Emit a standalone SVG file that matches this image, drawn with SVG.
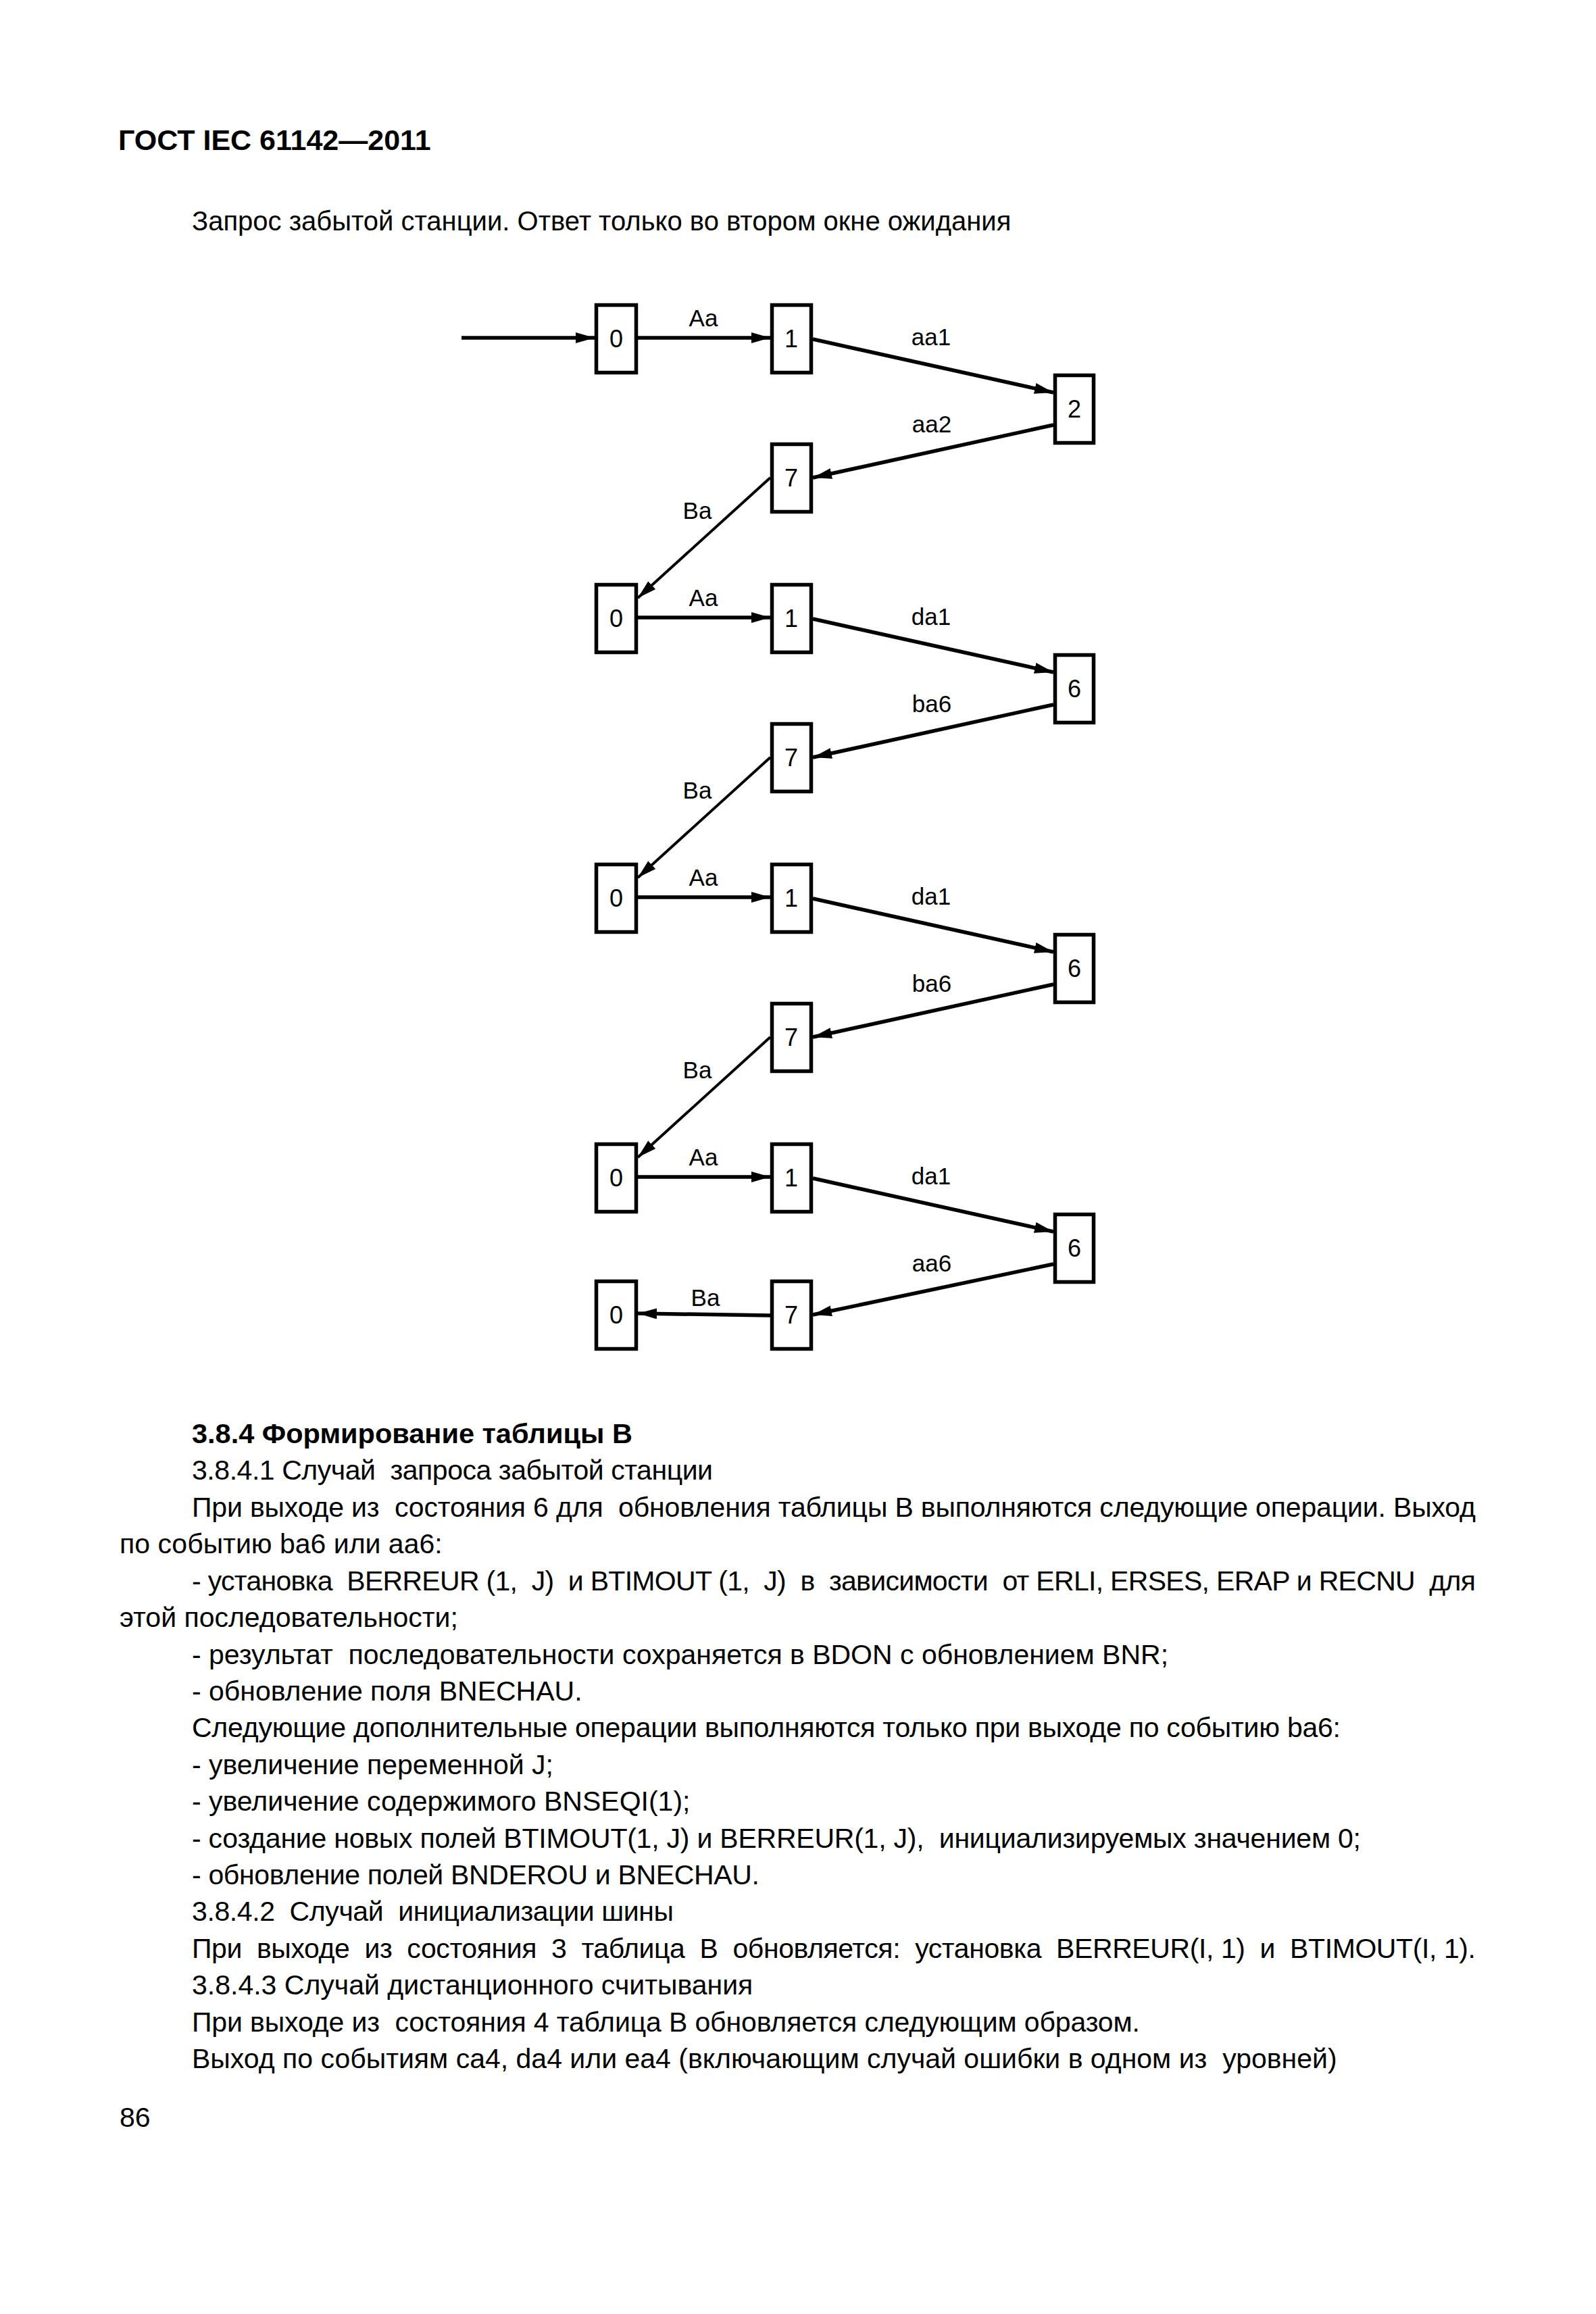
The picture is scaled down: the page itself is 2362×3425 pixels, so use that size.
<svg xmlns="http://www.w3.org/2000/svg" width="2362" height="3425" viewBox="0 0 2362 3425">
<style>
.bg{fill:#fff}
.box{fill:#fff;stroke:#000;stroke-width:5.5}
.num{font-family:"Liberation Sans",Arial,sans-serif;font-size:36px;text-anchor:middle;fill:#000}
.lbl{font-family:"Liberation Sans",Arial,sans-serif;font-size:35px;text-anchor:middle;fill:#000}
.thick{fill:none;stroke:#000;stroke-width:5.5;marker-end:url(#ah)}
.thin{fill:none;stroke:#000;stroke-width:4;marker-end:url(#ah)}
.body{font-family:"Liberation Sans",Arial,sans-serif;font-size:41px;fill:#000}
.sub{font-family:"Liberation Sans",Arial,sans-serif;font-size:40px;fill:#000}
.bold{font-family:"Liberation Sans",Arial,sans-serif;font-size:41.5px;font-weight:bold;fill:#000}
.hdr{font-family:"Liberation Sans",Arial,sans-serif;font-size:43px;font-weight:bold;fill:#000}
</style>
<defs>
<marker id="ah" markerUnits="userSpaceOnUse" markerWidth="30" markerHeight="18" refX="28" refY="8" orient="auto">
<path d="M0,0 L28,8 L0,16 z" fill="#000"/>
</marker>
</defs>
<rect class="bg" x="0" y="0" width="2362" height="3425"/>

<text class="hdr" x="175" y="222">ГОСТ IEC 61142—2011</text>
<text class="sub" x="284" y="341">Запрос забытой станции. Ответ только во втором окне ожидания</text>

<g id="connectors">
<line class="thick" x1="683" y1="500" x2="880" y2="500"/>
<!-- row 1 -->
<line class="thick" x1="944" y1="500" x2="1140" y2="500"/>
<line class="thick" x1="1203" y1="502" x2="1559" y2="581"/>
<line class="thick" x1="1559" y1="629" x2="1203" y2="707"/>
<line class="thin" x1="1140" y1="707" x2="944" y2="885"/>
<!-- row 2 -->
<line class="thick" x1="944" y1="914" x2="1140" y2="914"/>
<line class="thick" x1="1203" y1="916" x2="1559" y2="995"/>
<line class="thick" x1="1559" y1="1043" x2="1203" y2="1121"/>
<line class="thin" x1="1140" y1="1121" x2="944" y2="1299"/>
<!-- row 3 -->
<line class="thick" x1="944" y1="1328" x2="1140" y2="1328"/>
<line class="thick" x1="1203" y1="1330" x2="1559" y2="1409"/>
<line class="thick" x1="1559" y1="1457" x2="1203" y2="1535"/>
<line class="thin" x1="1140" y1="1535" x2="944" y2="1713"/>
<!-- row 4 -->
<line class="thick" x1="944" y1="1742" x2="1140" y2="1742"/>
<line class="thick" x1="1203" y1="1744" x2="1559" y2="1823"/>
<line class="thick" x1="1559" y1="1871" x2="1203" y2="1946"/>
<line class="thick" x1="1140" y1="1947" x2="944" y2="1944"/>
</g>

<g id="labels">
<text class="lbl" x="1041" y="483">Aa</text>
<text class="lbl" x="1378" y="511">aa1</text>
<text class="lbl" x="1379" y="640">aa2</text>
<text class="lbl" x="1032" y="768">Ba</text>
<text class="lbl" x="1041" y="897">Aa</text>
<text class="lbl" x="1378" y="925">da1</text>
<text class="lbl" x="1379" y="1054">ba6</text>
<text class="lbl" x="1032" y="1182">Ba</text>
<text class="lbl" x="1041" y="1311">Aa</text>
<text class="lbl" x="1378" y="1339">da1</text>
<text class="lbl" x="1379" y="1468">ba6</text>
<text class="lbl" x="1032" y="1596">Ba</text>
<text class="lbl" x="1041" y="1725">Aa</text>
<text class="lbl" x="1378" y="1753">da1</text>
<text class="lbl" x="1379" y="1882">aa6</text>
<text class="lbl" x="1044" y="1933">Ba</text>
</g>

<g id="n_r1_0"><rect class="box" x="882.5" y="451.5" width="59" height="100"/><text class="num" x="912" y="514">0</text></g>
<g id="n_r1_1"><rect class="box" x="1142.5" y="451.5" width="58" height="100"/><text class="num" x="1171" y="514">1</text></g>
<g id="n_r1_2"><rect class="box" x="1561.5" y="555.5" width="57" height="100"/><text class="num" x="1590" y="618">2</text></g>
<g id="n_r1_7"><rect class="box" x="1142.5" y="657.5" width="58" height="100"/><text class="num" x="1171" y="720">7</text></g>

<g id="n_r2_0"><rect class="box" x="882.5" y="865.5" width="59" height="100"/><text class="num" x="912" y="928">0</text></g>
<g id="n_r2_1"><rect class="box" x="1142.5" y="865.5" width="58" height="100"/><text class="num" x="1171" y="928">1</text></g>
<g id="n_r2_6"><rect class="box" x="1561.5" y="969.5" width="57" height="100"/><text class="num" x="1590" y="1032">6</text></g>
<g id="n_r2_7"><rect class="box" x="1142.5" y="1071.5" width="58" height="100"/><text class="num" x="1171" y="1134">7</text></g>

<g id="n_r3_0"><rect class="box" x="882.5" y="1279.5" width="59" height="100"/><text class="num" x="912" y="1342">0</text></g>
<g id="n_r3_1"><rect class="box" x="1142.5" y="1279.5" width="58" height="100"/><text class="num" x="1171" y="1342">1</text></g>
<g id="n_r3_6"><rect class="box" x="1561.5" y="1383.5" width="57" height="100"/><text class="num" x="1590" y="1446">6</text></g>
<g id="n_r3_7"><rect class="box" x="1142.5" y="1485.5" width="58" height="100"/><text class="num" x="1171" y="1548">7</text></g>

<g id="n_r4_0"><rect class="box" x="882.5" y="1693.5" width="59" height="100"/><text class="num" x="912" y="1756">0</text></g>
<g id="n_r4_1"><rect class="box" x="1142.5" y="1693.5" width="58" height="100"/><text class="num" x="1171" y="1756">1</text></g>
<g id="n_r4_6"><rect class="box" x="1561.5" y="1797.5" width="57" height="100"/><text class="num" x="1590" y="1860">6</text></g>
<g id="n_r5_0"><rect class="box" x="882.5" y="1896.5" width="59" height="100"/><text class="num" x="912" y="1959">0</text></g>
<g id="n_r5_7"><rect class="box" x="1142.5" y="1896.5" width="58" height="100"/><text class="num" x="1171" y="1959">7</text></g>

<g id="text">
<text class="bold" x="284" y="2136">3.8.4 Формирование таблицы В</text>
<text class="body" x="284" y="2190" textLength="771" xml:space="preserve">3.8.4.1 Случай  запроса забытой станции</text>
<text class="body" x="284" y="2245" textLength="1900" xml:space="preserve">При выходе из  состояния 6 для  обновления таблицы В выполняются следующие операции. Выход</text>
<text class="body" x="177" y="2299">по событию ba6 или aa6:</text>
<text class="body" x="284" y="2354" textLength="1900" xml:space="preserve">- установка  BERREUR (1,  J)  и BTIMOUT (1,  J)  в  зависимости  от ERLI, ERSES, ERAP и RECNU  для</text>
<text class="body" x="177" y="2408">этой последовательности;</text>
<text class="body" x="284" y="2463" xml:space="preserve">- результат  последовательности сохраняется в BDON с обновлением BNR;</text>
<text class="body" x="284" y="2517">- обновление поля BNECHAU.</text>
<text class="body" x="284" y="2571" textLength="1700">Следующие дополнительные операции выполняются только при выходе по событию ba6:</text>
<text class="body" x="284" y="2626">- увеличение переменной J;</text>
<text class="body" x="284" y="2680">- увеличение содержимого BNSEQI(1);</text>
<text class="body" x="284" y="2735" textLength="1730" xml:space="preserve">- создание новых полей BTIMOUT(1, J) и BERREUR(1, J),  инициализируемых значением 0;</text>
<text class="body" x="284" y="2789" textLength="840">- обновление полей BNDEROU и BNECHAU.</text>
<text class="body" x="284" y="2843" textLength="713" xml:space="preserve">3.8.4.2  Случай  инициализации шины</text>
<text class="body" x="284" y="2898" textLength="1900" xml:space="preserve">При  выходе  из  состояния  3  таблица  В  обновляется:  установка  BERREUR(I, 1)  и  BTIMOUT(I, 1).</text>
<text class="body" x="284" y="2952">3.8.4.3 Случай дистанционного считывания</text>
<text class="body" x="284" y="3007" textLength="1403" xml:space="preserve">При выходе из  состояния 4 таблица В обновляется следующим образом.</text>
<text class="body" x="284" y="3061" xml:space="preserve">Выход по событиям ca4, da4 или ea4 (включающим случай ошибки в одном из  уровней)</text>
<text class="body" x="177" y="3148">86</text>
</g>
</svg>
